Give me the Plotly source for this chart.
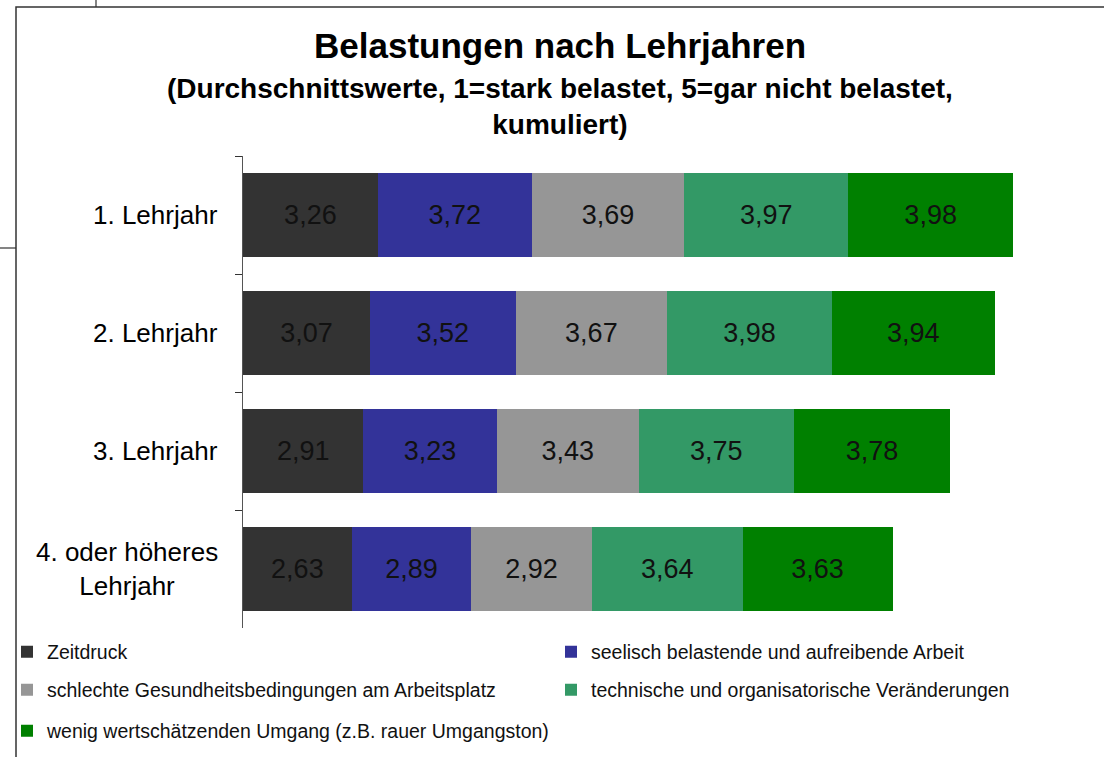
import plotly.graph_objects as go

# Survey averages per training year (1 = strongly burdened, 5 = not burdened at all)
categories = ["1. Lehrjahr", "2. Lehrjahr", "3. Lehrjahr", "4. oder höheres<br>Lehrjahr"]

series_names = [
    "Zeitdruck",
    "seelisch belastende und aufreibende Arbeit",
    "schlechte Gesundheitsbedingungen am Arbeitsplatz",
    "technische und organisatorische Veränderungen",
    "wenig wertschätzenden Umgang (z.B. rauer Umgangston)",
]

zeitdruck = [3.26, 3.07, 2.91, 2.63]
seelisch = [3.72, 3.52, 3.23, 2.89]
gesundheit = [3.69, 3.67, 3.43, 2.92]
veraenderungen = [3.97, 3.98, 3.75, 3.64]
umgang = [3.98, 3.94, 3.78, 3.63]

series_values = [zeitdruck, seelisch, gesundheit, veraenderungen, umgang]
colors = ["#333333", "#333399", "#969696", "#339966", "#008000"]

# one legend per entry, laid out as a two-column grid below the bars
legend_ids = ["legend", "legend2", "legend3", "legend4", "legend5"]
legend_pos = [(7, 652), (551, 652), (7, 690), (551, 690), (7, 731)]

W, H = 1104, 757
ML, MR, MT, MB = 243, 34, 156, 129
PW, PH = W - ML - MR, H - MT - MB
FONT = "Liberation Sans, Arial, Helvetica, sans-serif"


def px_x(px):
    return (px - ML) / PW


def px_y(py):
    return (H - MB - py) / PH


fig = go.Figure()
for name, vals, col, lg in zip(series_names, series_values, colors, legend_ids):
    fig.add_trace(go.Bar(
        y=categories,
        x=vals,
        name=name,
        orientation="h",
        marker=dict(color=col, line=dict(width=0)),
        text=[f"{v:.2f}".replace(".", ",") for v in vals],
        textposition="inside",
        insidetextanchor="middle",
        textangle=0,
        constraintext="none",
        textfont=dict(family=FONT, size=27, color="#111111"),
        legend=lg,
        hoverinfo="skip",
    ))

annotations = [
    dict(text="<b>Belastungen nach Lehrjahren</b>", x=px_x(560), y=px_y(45),
         xref="paper", yref="paper", xanchor="center", yanchor="middle",
         showarrow=False, font=dict(family=FONT, size=35, color="#000000")),
    dict(text="<b>(Durchschnittswerte, 1=stark belastet, 5=gar nicht belastet,<br>kumuliert)</b>",
         x=px_x(560), y=px_y(106), xref="paper", yref="paper",
         xanchor="center", yanchor="middle", align="center", showarrow=False,
         font=dict(family=FONT, size=28, color="#000000")),
]
for cat in categories:
    annotations.append(dict(
        text=cat, x=px_x(220), y=cat, xref="paper", yref="y",
        xanchor="right", yanchor="middle", align="center", showarrow=False,
        font=dict(family=FONT, size=26, color="#000000"),
    ))

# Outer frame of the chart area and the neighbouring border lines
frame_col = "#333333"
shapes = [
    dict(type="path", xref="paper", yref="paper",
         path=f"M {px_x(1110)},{px_y(7)} L {px_x(16)},{px_y(7)} L {px_x(16)},{px_y(765)}",
         line=dict(color=frame_col, width=1.5)),
    dict(type="line", xref="paper", yref="paper",
         x0=px_x(96), x1=px_x(96), y0=px_y(-2), y1=px_y(7),
         line=dict(color=frame_col, width=1.2)),
    dict(type="line", xref="paper", yref="paper",
         x0=px_x(-2), x1=px_x(16), y0=px_y(248), y1=px_y(248),
         line=dict(color=frame_col, width=1.2)),
]

legends = {}
for lg, (lx, ly) in zip(legend_ids, legend_pos):
    legends[lg] = dict(
        orientation="h", xanchor="left", yanchor="middle",
        x=px_x(lx), y=px_y(ly),
        font=dict(family=FONT, size=19.5, color="#111111"),
        bgcolor="rgba(0,0,0,0)",
    )

fig.update_layout(
    width=W, height=H,
    margin=dict(l=ML, r=MR, t=MT, b=MB, autoexpand=False),
    paper_bgcolor="#ffffff", plot_bgcolor="#ffffff",
    barmode="stack", bargap=0.28,
    showlegend=True,
    xaxis=dict(range=[0, 20], visible=False, fixedrange=True),
    yaxis=dict(
        type="category", autorange="reversed", showticklabels=False,
        showline=True, linecolor="#555555", linewidth=1,
        ticks="outside", tickson="boundaries", ticklen=7, tickcolor="#333333",
        showgrid=False, zeroline=False, fixedrange=True,
    ),
    annotations=annotations,
    shapes=shapes,
    **legends,
)

fig.write_html("out.html")
